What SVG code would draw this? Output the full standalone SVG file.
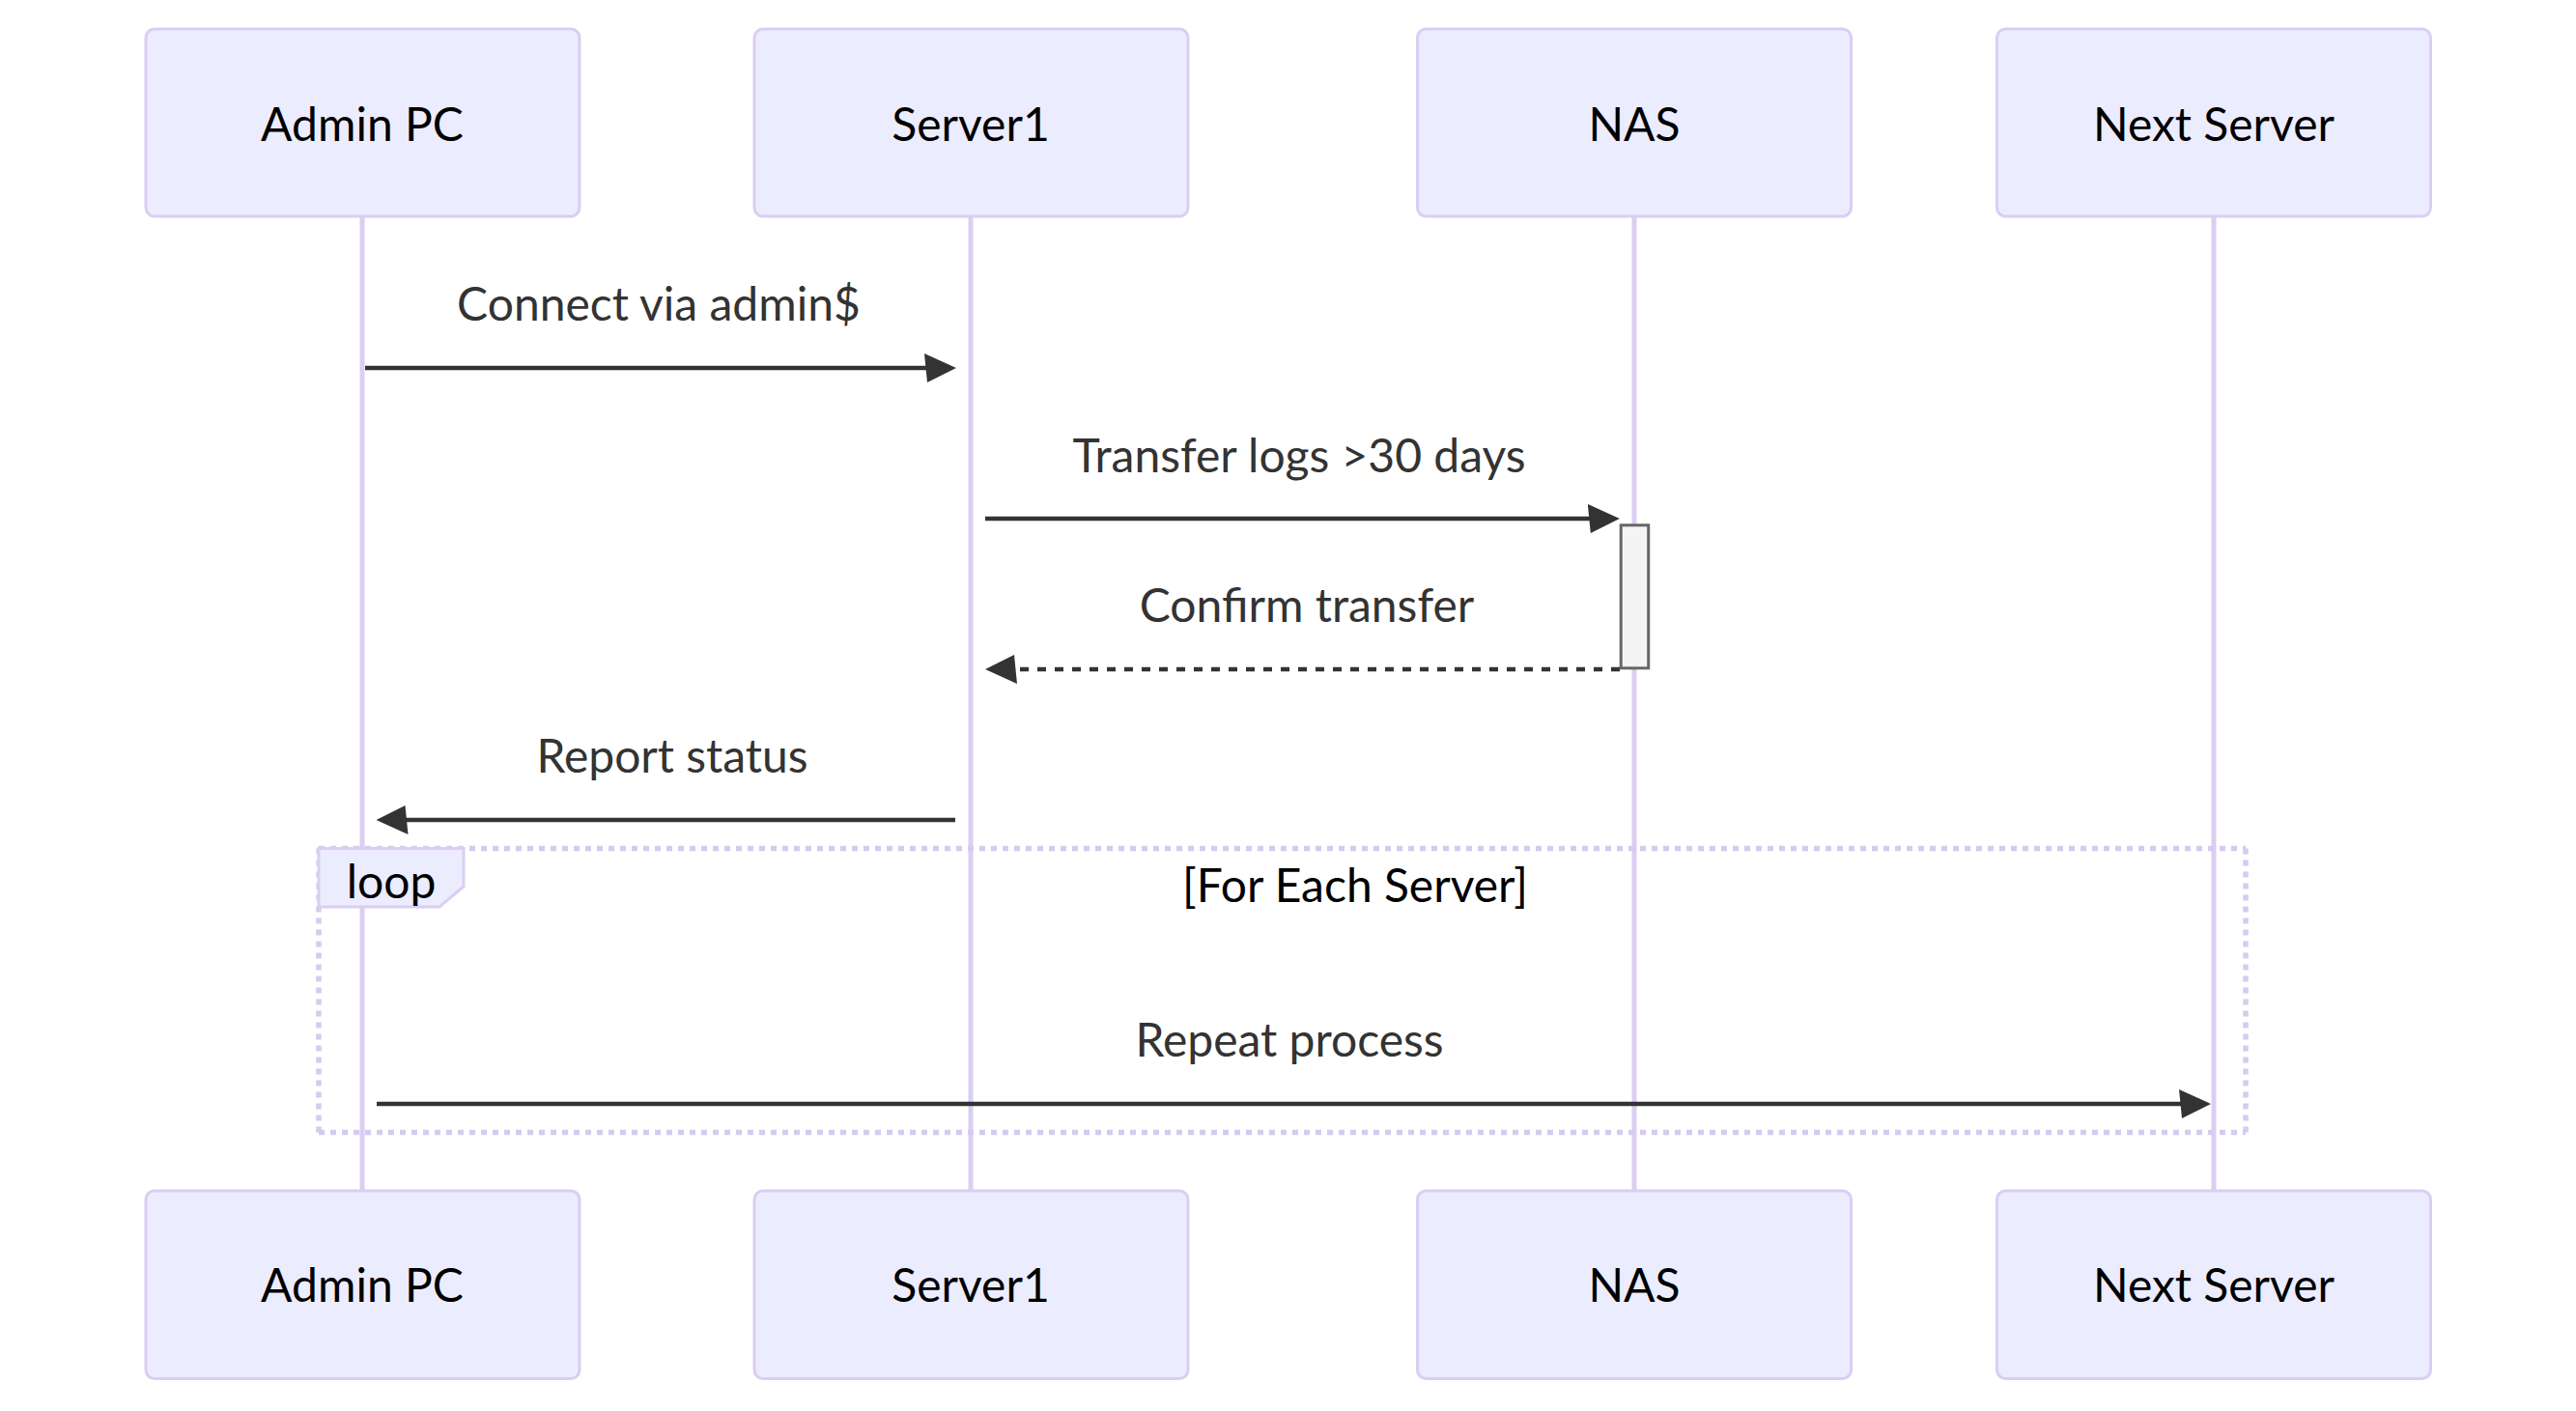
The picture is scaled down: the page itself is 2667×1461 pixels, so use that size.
<svg xmlns="http://www.w3.org/2000/svg" width="2667" height="1461" viewBox="0 0 2667 1461">
<style>
.actor rect{fill:#ECECFF;stroke:#DACEF2;stroke-width:3}
.actor text{font-family:Lato,"Open Sans",sans-serif;font-size:48px;fill:#000;text-anchor:middle}
.lifeline{stroke:#DACEF2;stroke-width:5}
.msg{stroke:#333;stroke-width:4.5;fill:none;marker-end:url(#arrowhead)}
.dotted{stroke-dasharray:9,9}
.msgtext{font-family:Lato,"Open Sans",sans-serif;font-size:48px;fill:#333;text-anchor:middle}
.loopline{stroke:#D6CAF0;stroke-width:5.5;stroke-dasharray:6,6;fill:none}
.looplabel{fill:#ECECFF;stroke:#DACEF2;stroke-width:3}
.looptext{font-family:Lato,"Open Sans",sans-serif;font-size:48px;fill:#000;text-anchor:middle}
.activation{fill:#F4F4F4;stroke:#666;stroke-width:3}
</style>
<defs>
<marker id="arrowhead" viewBox="-1 0 11 10" refX="7.9" refY="5" markerWidth="33" markerHeight="30" markerUnits="userSpaceOnUse" orient="auto">
<path d="M -1 0 L 10 5 L 0 10 z" fill="#333"/>
</marker>
</defs>
<rect width="2667" height="1461" fill="#fff"/>
<g id="lifelines">
<line class="lifeline" x1="375" y1="224" x2="375" y2="1233"/>
<line class="lifeline" x1="1005" y1="224" x2="1005" y2="1233"/>
<line class="lifeline" x1="1692" y1="224" x2="1692" y2="1233"/>
<line class="lifeline" x1="2292" y1="224" x2="2292" y2="1233"/>
</g>
<g id="actor-adminpc-top" class="actor"><rect x="151" y="30" width="449" height="194" rx="9"/><text x="375" y="146">Admin PC</text></g>
<g id="actor-server1-top" class="actor"><rect x="781" y="30" width="449" height="194" rx="9"/><text x="1005" y="146">Server1</text></g>
<g id="actor-nas-top" class="actor"><rect x="1467.5" y="30" width="449" height="194" rx="9"/><text x="1692" y="146">NAS</text></g>
<g id="actor-nextserver-top" class="actor"><rect x="2067.5" y="30" width="449" height="194" rx="9"/><text x="2292" y="146">Next Server</text></g>
<g id="actor-adminpc-bottom" class="actor"><rect x="151" y="1233" width="449" height="194.5" rx="9"/><text x="375" y="1348">Admin PC</text></g>
<g id="actor-server1-bottom" class="actor"><rect x="781" y="1233" width="449" height="194.5" rx="9"/><text x="1005" y="1348">Server1</text></g>
<g id="actor-nas-bottom" class="actor"><rect x="1467.5" y="1233" width="449" height="194.5" rx="9"/><text x="1692" y="1348">NAS</text></g>
<g id="actor-nextserver-bottom" class="actor"><rect x="2067.5" y="1233" width="449" height="194.5" rx="9"/><text x="2292" y="1348">Next Server</text></g>
<g id="loop">
<line class="loopline" x1="330" y1="878.5" x2="2325" y2="878.5"/>
<line class="loopline" x1="2325" y1="878.5" x2="2325" y2="1172.5"/>
<line class="loopline" x1="330" y1="1172.5" x2="2325" y2="1172.5"/>
<line class="loopline" x1="330" y1="878.5" x2="330" y2="1172.5"/>
<polygon class="looplabel" points="330,878.5 480,878.5 480,918 455,939 330,939"/>
<text class="looptext" x="405" y="930">loop</text>
<text class="looptext" x="1403" y="934">[For Each Server]</text>
</g>
<g id="activation-nas"><rect class="activation" x="1678.2" y="543.8" width="28.5" height="148"/></g>
<g id="connectors">
<line class="msg" x1="378" y1="381" x2="983.7" y2="381"/>
<line class="msg" x1="1020" y1="537" x2="1670.5" y2="537"/>
<line class="msg dotted" x1="1677" y1="693" x2="1026.3" y2="693"/>
<line class="msg" x1="989" y1="849" x2="395.8" y2="849"/>
<line class="msg" x1="390" y1="1143" x2="2282.7" y2="1143"/>
</g>
<g id="message-labels">
<text class="msgtext" x="682" y="332">Connect via admin$</text>
<text class="msgtext" x="1345" y="489">Transfer logs &gt;30 days</text>
<text class="msgtext" x="1353" y="644">Confirm transfer</text>
<text class="msgtext" x="696" y="800">Report status</text>
<text class="msgtext" x="1335" y="1094">Repeat process</text>
</g>
</svg>
